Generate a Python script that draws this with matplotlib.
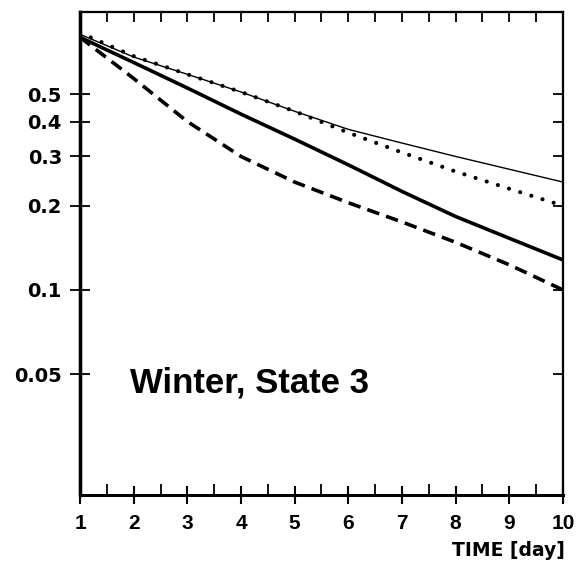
import numpy as np
import matplotlib
matplotlib.use("Agg")
import matplotlib.pyplot as plt
from matplotlib.ticker import FixedLocator, NullLocator, FixedFormatter

# time in days
days = [1, 2, 3, 4, 5, 6, 7, 8, 9, 10]

# the four curves
thin_solid = [0.82, 0.68, 0.59, 0.51, 0.435, 0.375, 0.335, 0.30, 0.27, 0.243]
dotted = [0.83, 0.685, 0.59, 0.51, 0.435, 0.365, 0.31, 0.265, 0.23, 0.20]
thick_solid = [0.80, 0.65, 0.527, 0.425, 0.346, 0.28, 0.225, 0.183, 0.153, 0.128]
dashed = [0.80, 0.57, 0.40, 0.30, 0.243, 0.205, 0.175, 0.148, 0.123, 0.10]

y_ticks = [0.05, 0.1, 0.2, 0.3, 0.4, 0.5]
y_labels = ["0.05", "0.1", "0.2", "0.3", "0.4", "0.5"]
x_ticks = [1, 2, 3, 4, 5, 6, 7, 8, 9, 10]
x_minor = [1.5, 2.5, 3.5, 4.5, 5.5, 6.5, 7.5, 8.5, 9.5]
top_ticks = [1.5, 2, 2.5, 3, 3.5, 4, 4.5, 5, 5.5, 6, 6.5, 7, 7.5, 8, 8.5, 9, 9.5]

ylim = (0.0185, 0.985)

fig = plt.figure(figsize=(5.84, 5.66), dpi=100)
ax = fig.add_axes([80 / 584, 71 / 566, 483 / 584, 483 / 566])

ax.plot(days, thin_solid, color="black", lw=1.0)
ax.plot(days, dotted, color="black", lw=3.0, dashes=(0.01, 2.8),
        dash_capstyle="round")
ax.plot(days, thick_solid, color="black", lw=2.6, solid_capstyle="butt")
ax.plot(days, dashed, color="black", lw=2.6, dashes=(3.5, 2.0))

ax.set_yscale("log")
ax.set_xlim(1, 10)
ax.set_ylim(*ylim)

ax.yaxis.set_major_locator(FixedLocator(y_ticks))
ax.yaxis.set_major_formatter(FixedFormatter(y_labels))
ax.yaxis.set_minor_locator(NullLocator())
ax.xaxis.set_major_locator(FixedLocator(x_ticks))
ax.xaxis.set_minor_locator(FixedLocator(x_minor))

ax.tick_params(axis="y", which="major", direction="inout", length=15,
               width=1.3, pad=5.5, labelsize=14)
ax.tick_params(axis="x", which="major", direction="inout", length=13,
               width=1.5, pad=7, labelsize=15)
ax.tick_params(axis="x", which="minor", direction="in", length=8, width=1.3)
for lab in ax.get_yticklabels():
    lab.set_fontfamily("DejaVu Sans")
    lab.set_fontweight("bold")
for lab in ax.get_xticklabels():
    lab.set_fontfamily("Liberation Sans")
    lab.set_fontweight("bold")

# right side ticks, pointing in
axr = ax.twinx()
axr.set_yscale("log")
axr.set_ylim(*ylim)
axr.yaxis.set_major_locator(FixedLocator(y_ticks))
axr.yaxis.set_minor_locator(NullLocator())
axr.tick_params(axis="y", direction="in", length=7, width=1.3, labelright=False)

# top ticks, pointing in
axt = ax.twiny()
axt.set_xlim(1, 10)
axt.xaxis.set_major_locator(FixedLocator(top_ticks))
axt.xaxis.set_minor_locator(NullLocator())
axt.tick_params(axis="x", direction="in", length=7, width=1.3, labeltop=False)

for a in (ax, axr, axt):
    a.spines["left"].set_linewidth(2.3)
    a.spines["bottom"].set_linewidth(2.0)
    a.spines["top"].set_linewidth(1.5)
    a.spines["right"].set_linewidth(1.5)

ax.text(1.93, 0.0466, "Winter, State 3", fontsize=25, fontweight="bold",
        fontfamily="Liberation Sans", va="center", ha="left")

fig.text(565 / 584, 1 - 550 / 566, "TIME [day]", fontsize=13.5,
         fontweight="bold", fontfamily="DejaVu Sans", ha="right", va="center")

fig.savefig("out.png", dpi=100)
